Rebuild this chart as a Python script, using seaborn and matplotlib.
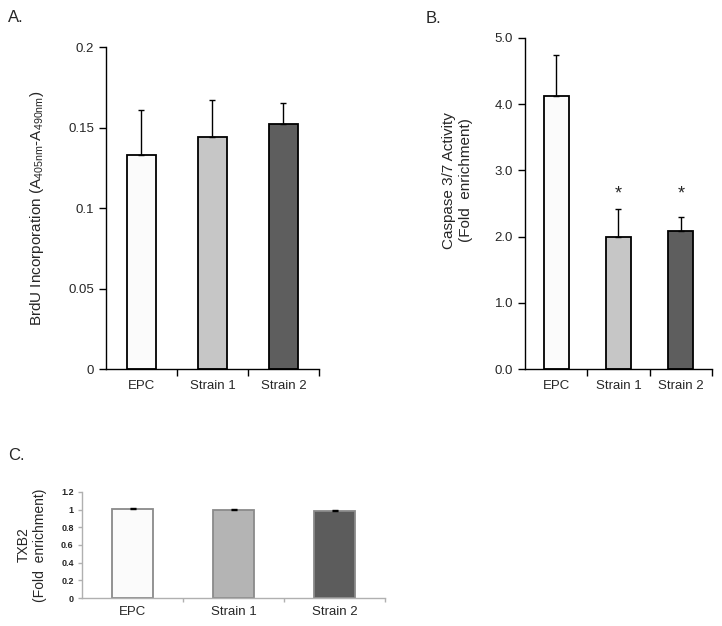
import numpy as np
import pandas as pd
import matplotlib
matplotlib.use("Agg")
import matplotlib.pyplot as plt
import seaborn as sns

# data
groups = ["EPC", "Strain 1", "Strain 2"]
brdu = [0.133, 0.144, 0.152]
brdu_err = [0.028, 0.023, 0.013]
caspase = [4.12, 2.00, 2.08]
caspase_err = [0.63, 0.42, 0.22]
caspase_star = [False, True, True]
txb2 = [1.01, 1.00, 0.99]
txb2_err = [0.005, 0.005, 0.005]

sns.set_theme(style="white")
plt.rcParams["font.family"] = ["Liberation Sans", "DejaVu Sans"]

bar_colors = ["#fbfbfb", "#c6c6c6", "#5e5e5e"]
bar_colors_c = ["#fbfbfb", "#b4b4b4", "#5c5c5c"]

fig = plt.figure(figsize=(7.22, 6.26), dpi=100)
axA = fig.add_axes([0.1468, 0.4105, 0.295, 0.5144])
axB = fig.add_axes([0.7271, 0.4105, 0.259, 0.5288])
axC = fig.add_axes([0.1136, 0.0447, 0.4197, 0.1694])


def draw_panel(ax, vals, errs, colors, edge, spine_col, xtick_len=5):
    df = pd.DataFrame({"group": groups, "value": vals})
    sns.barplot(data=df, x="group", y="value", hue="group", palette=colors,
                width=0.4, edgecolor=edge, linewidth=1.3, legend=False, ax=ax)
    ax.errorbar(range(len(groups)), vals, yerr=[np.zeros(len(errs)), errs],
                fmt="none", ecolor="black", elinewidth=1, capsize=2.5, capthick=1)
    ax.set_xlim(-0.5, 2.5)
    ax.set_xlabel("")
    for s in ["top", "right"]:
        ax.spines[s].set_visible(False)
    for s in ["left", "bottom"]:
        ax.spines[s].set_color(spine_col)
        ax.spines[s].set_linewidth(1)
    ax.set_xticks([0.5, 1.5, 2.5], minor=True)
    ax.tick_params(axis="x", which="major", length=0, pad=8)
    ax.tick_params(axis="x", which="minor", direction="out", length=xtick_len,
                   color=spine_col, width=1, bottom=True)
    ax.tick_params(axis="y", direction="out", length=5, color=spine_col,
                   width=1, left=True)


# panel A
draw_panel(axA, brdu, brdu_err, bar_colors, "black", "black")
axA.set_ylim(0, 0.2)
axA.set_yticks([0, 0.05, 0.1, 0.15, 0.2])
axA.set_yticklabels(["0", "0.05", "0.1", "0.15", "0.2"])
axA.tick_params(labelsize=9.5)
axA.set_ylabel(r"BrdU Incorporation (A$_{\mathregular{405nm}}$-A$_{\mathregular{490nm}}$)",
               fontsize=11)
axA.yaxis.set_label_coords(-0.28, 0.5)

# panel B
draw_panel(axB, caspase, caspase_err, bar_colors, "black", "black")
axB.set_ylim(0, 5)
axB.set_yticks([0, 1, 2, 3, 4, 5])
axB.set_yticklabels([f"{v:.1f}" for v in range(6)])
axB.tick_params(labelsize=9.5)
axB.set_ylabel("Caspase 3/7 Activity\n(Fold  enrichment)", fontsize=11)
axB.yaxis.set_label_coords(-0.28, 0.57)
for i, s in enumerate(caspase_star):
    if s:
        axB.text(i, 2.64, "*", ha="center", va="center", fontsize=13)

# panel C
draw_panel(axC, txb2, txb2_err, bar_colors_c, "#8a8a8a", "#b0b0b0", xtick_len=3)
axC.set_ylim(0, 1.2)
axC.set_yticks([0, 0.2, 0.4, 0.6, 0.8, 1.0, 1.2])
axC.set_yticklabels(["0", "0.2", "0.4", "0.6", "0.8", "1", "1.2"],
                    fontweight="bold", fontsize=6.5)
axC.tick_params(axis="x", labelsize=9.5, pad=6)
axC.tick_params(axis="y", length=3, pad=3)
axC.set_ylabel("TXB2\n(Fold  enrichment)", fontsize=10)
axC.yaxis.set_label_coords(-0.115, 0.5)

fig.text(0.011, 0.972, "A.", fontsize=12, va="center")
fig.text(0.590, 0.970, "B.", fontsize=12, va="center")
fig.text(0.011, 0.2716, "C.", fontsize=12, va="center")

fig.savefig("out.png", dpi=100)
